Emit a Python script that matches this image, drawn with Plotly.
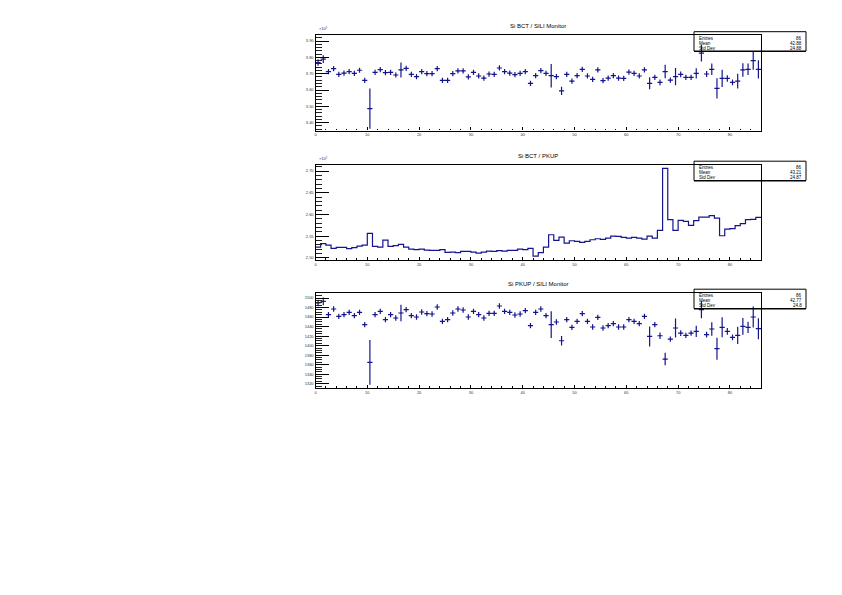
import numpy as np
import plotly.graph_objects as go

# ---------------- data ----------------
n_bins = 86
bin_edges = np.arange(n_bins + 1)
bin_centers = bin_edges[:-1] + 0.5

bct_sili = [3.768, 3.789, 3.713, 3.731, 3.696, 3.704, 3.713, 3.702, 3.721, 3.659,
            3.486, 3.708, 3.725, 3.706, 3.708, 3.692, 3.723, 3.733, 3.696, 3.682,
            3.713, 3.700, 3.700, 3.731, 3.659, 3.659, 3.700, 3.717, 3.717, 3.680,
            3.708, 3.686, 3.673, 3.698, 3.696, 3.735, 3.713, 3.704, 3.694, 3.702,
            3.713, 3.641, 3.688, 3.719, 3.702, 3.688, 3.682, 3.595, 3.696, 3.655,
            3.688, 3.727, 3.686, 3.665, 3.723, 3.657, 3.673, 3.688, 3.673, 3.671,
            3.710, 3.702, 3.686, 3.723, 3.641, 3.678, 3.647, 3.713, 3.661, 3.682,
            3.696, 3.678, 3.678, 3.702, 3.826, 3.698, 3.727, 3.610, 3.671, 3.671,
            3.647, 3.655, 3.723, 3.727, 3.780, 3.727]
bct_sili_err = [0.020, 0.024, 0.016, 0.016, 0.016, 0.016, 0.016, 0.016, 0.016, 0.016,
                0.123, 0.016, 0.016, 0.016, 0.016, 0.016, 0.046, 0.016, 0.016, 0.016,
                0.016, 0.016, 0.016, 0.016, 0.016, 0.016, 0.016, 0.016, 0.016, 0.016,
                0.016, 0.016, 0.016, 0.016, 0.016, 0.016, 0.016, 0.016, 0.016, 0.016,
                0.016, 0.016, 0.016, 0.016, 0.016, 0.072, 0.016, 0.025, 0.016, 0.016,
                0.016, 0.016, 0.016, 0.016, 0.016, 0.016, 0.016, 0.016, 0.016, 0.016,
                0.016, 0.016, 0.016, 0.016, 0.037, 0.016, 0.018, 0.041, 0.016, 0.053,
                0.018, 0.016, 0.016, 0.031, 0.051, 0.018, 0.035, 0.062, 0.053, 0.020,
                0.018, 0.045, 0.041, 0.035, 0.056, 0.056]

bct_pkup = [2.5248, 2.5325, 2.5294, 2.5217, 2.5240, 2.5240, 2.5210, 2.5233, 2.5271, 2.5294,
            2.5563, 2.5264, 2.5248, 2.5410, 2.5264, 2.5279, 2.5310, 2.5248, 2.5202, 2.5187,
            2.5202, 2.5179, 2.5171, 2.5171, 2.5187, 2.5125, 2.5133, 2.5118, 2.5148, 2.5148,
            2.5133, 2.5110, 2.5133, 2.5156, 2.5148, 2.5164, 2.5156, 2.5171, 2.5171, 2.5202,
            2.5187, 2.5217, 2.5040, 2.5120, 2.5248, 2.5532, 2.5402, 2.5479, 2.5340, 2.5394,
            2.5379, 2.5356, 2.5379, 2.5417, 2.5440, 2.5425, 2.5456, 2.5502, 2.5494, 2.5471,
            2.5456, 2.5471, 2.5456, 2.5433, 2.5502, 2.5456, 2.5632, 2.7061, 2.5878, 2.5632,
            2.5863, 2.5839, 2.5747, 2.5855, 2.5939, 2.5939, 2.5970, 2.5916, 2.5509, 2.5663,
            2.5671, 2.5740, 2.5786, 2.5878, 2.5886, 2.5932]

pkup_sili = [1489.5, 1493.0, 1465.0, 1476.9, 1461.5, 1465.0, 1469.9, 1462.9, 1469.9, 1444.0,
             1364.8, 1465.0, 1472.0, 1454.5, 1465.0, 1458.0, 1468.5, 1475.5, 1462.9, 1460.1,
             1470.6, 1467.1, 1466.4, 1481.1, 1451.0, 1454.5, 1468.5, 1476.9, 1474.8, 1460.1,
             1472.0, 1465.0, 1458.0, 1467.8, 1467.8, 1483.2, 1472.0, 1469.9, 1464.3, 1466.4,
             1473.4, 1441.9, 1469.9, 1476.9, 1462.9, 1444.0, 1449.6, 1410.3, 1454.5, 1438.4,
             1451.0, 1467.1, 1451.0, 1439.1, 1459.4, 1437.0, 1441.9, 1446.1, 1439.1, 1439.1,
             1454.5, 1451.0, 1446.1, 1461.5, 1419.4, 1444.0, 1420.8, 1371.8, 1413.8, 1437.0,
             1426.4, 1421.5, 1426.4, 1430.0, 1475.5, 1423.0, 1434.9, 1393.5, 1438.4, 1430.0,
             1417.3, 1421.5, 1440.5, 1438.4, 1460.1, 1435.6]
pkup_sili_err = [7.0, 8.0, 5.6, 5.6, 5.6, 5.6, 5.6, 5.6, 5.6, 5.6,
                 47.0, 5.6, 5.6, 5.6, 5.6, 5.6, 17.5, 5.6, 5.6, 5.6,
                 5.6, 5.6, 5.6, 5.6, 5.6, 5.6, 5.6, 5.6, 5.6, 5.6,
                 5.6, 5.6, 5.6, 5.6, 5.6, 5.6, 5.6, 5.6, 5.6, 5.6,
                 5.6, 5.6, 5.6, 5.6, 5.6, 28.0, 5.6, 10.0, 5.6, 5.6,
                 5.6, 5.6, 5.6, 5.6, 5.6, 5.6, 5.6, 5.6, 5.6, 5.6,
                 5.6, 5.6, 5.6, 5.6, 21.0, 5.6, 7.0, 13.0, 5.6, 20.0,
                 6.0, 5.6, 5.6, 12.0, 18.0, 6.0, 14.0, 23.0, 21.0, 7.0,
                 6.0, 18.0, 17.5, 12.0, 22.0, 22.0]

titles = ["Si BCT / SILI Monitor", "Si BCT / PKUP", "Si PKUP / SILI Monitor"]
stats_labels = ["Entries", "Mean", "Std Dev"]
stats_values = [["86", "42.88", "24.88"], ["86", "43.21", "24.87"], ["86", "42.77", "24.8"]]
y_ranges = [[3.352, 3.937], [2.495, 2.715], [1311, 1511.6]]
y_dticks = [0.1, 0.05, 20]
y_minor = [0.02, 0.01, 5]
y_formats = [".2f", ".2f", "d"]
y_exponents = ["×10³", "×10³", None]

# ---------------- layout helpers ----------------
OFF = 8  # page body margin
W, H = 842 - OFF, 595 - OFF
LEFT, RIGHT = 315.5, 761.0
frames = [(35.0, 130.5), (164.5, 260.0), (292.5, 388.0)]

def px(x):
    return (x - OFF) / W

def py(y):
    return 1 - (y - OFF) / H

COL = "#14148f"
FONT = "Liberation Sans, Arial, sans-serif"

fig = go.Figure()

fig.add_trace(go.Scatter(
    x=bin_centers, y=bct_sili, mode="markers",
    marker=dict(size=1, color=COL),
    error_x=dict(type="data", array=[0.5] * n_bins, width=0, thickness=1.2, color=COL),
    error_y=dict(type="data", array=bct_sili_err, width=0, thickness=1.2, color=COL),
    xaxis="x", yaxis="y", hoverinfo="skip"))

fig.add_trace(go.Scatter(
    x=bin_edges, y=list(bct_pkup) + [bct_pkup[-1]], mode="lines",
    line=dict(color=COL, width=1.2, shape="hv"),
    xaxis="x2", yaxis="y2", hoverinfo="skip"))

fig.add_trace(go.Scatter(
    x=bin_centers, y=pkup_sili, mode="markers",
    marker=dict(size=1, color=COL),
    error_x=dict(type="data", array=[0.5] * n_bins, width=0, thickness=1.2, color=COL),
    error_y=dict(type="data", array=pkup_sili_err, width=0, thickness=1.2, color=COL),
    xaxis="x3", yaxis="y3", hoverinfo="skip"))

layout = dict(
    width=W, height=H, margin=dict(l=0, r=0, t=0, b=0),
    paper_bgcolor="white", plot_bgcolor="white", showlegend=False,
    font=dict(family=FONT, color="black"),
)

annotations = []
shapes = []
for i, (top, bot) in enumerate(frames):
    sx = "" if i == 0 else str(i + 1)
    layout["xaxis" + sx] = dict(
        domain=[px(LEFT), px(RIGHT)], anchor="y" + sx, range=[0, n_bins],
        showgrid=False, zeroline=False, showline=True, mirror=True,
        linecolor="black", linewidth=1.2,
        ticks="inside", ticklen=3, tickwidth=1, tickcolor="black",
        tick0=0, dtick=10,
        minor=dict(ticks="inside", ticklen=1.5, dtick=2, tickcolor="black", showgrid=False),
        tickfont=dict(size=4, color="#333"),
    )
    layout["yaxis" + sx] = dict(
        domain=[py(bot), py(top)], anchor="x" + sx, range=y_ranges[i],
        showgrid=False, zeroline=False, showline=True, mirror=True,
        linecolor="black", linewidth=1.2,
        ticks="inside", ticklen=13, tickwidth=1, tickcolor="black",
        dtick=y_dticks[i], tickformat=y_formats[i],
        minor=dict(ticks="inside", ticklen=6.5, dtick=y_minor[i], tickcolor="#222", showgrid=False),
        tickfont=dict(size=4, color="#333"),
    )
    annotations.append(dict(
        x=px((LEFT + RIGHT) / 2), y=py(top - 8.5), xref="paper", yref="paper",
        text=titles[i], showarrow=False, xanchor="center", yanchor="middle",
        font=dict(size=6, color="black", family=FONT)))
    if y_exponents[i]:
        annotations.append(dict(
            x=px(LEFT + 1), y=py(top - 1.5), xref="paper", yref="paper",
            text=y_exponents[i], showarrow=False, xanchor="left", yanchor="bottom",
            font=dict(size=4, color="#333", family=FONT)))
    bx0, bx1 = 694, 806
    by0, by1 = top - 3.3, top + 16.0
    shapes.append(dict(type="rect", xref="paper", yref="paper",
                       x0=px(bx0), x1=px(bx1), y0=py(by1), y1=py(by0),
                       line=dict(color="black", width=1), fillcolor="rgba(0,0,0,0)"))
    shapes.append(dict(type="line", xref="paper", yref="paper",
                       x0=px(bx0), x1=px(bx1), y0=py(by1 + 0.5), y1=py(by1 + 0.5),
                       line=dict(color="black", width=1)))
    for r, lab in enumerate(stats_labels):
        yy = by0 + 6.3 + 5.0 * r
        annotations.append(dict(
            x=px(bx0 + 3), y=py(yy), xref="paper", yref="paper", text=lab,
            showarrow=False, xanchor="left", yanchor="middle",
            font=dict(size=4.5, color="black", family=FONT)))
        annotations.append(dict(
            x=px(bx1 - 2), y=py(yy), xref="paper", yref="paper", text=stats_values[i][r],
            showarrow=False, xanchor="right", yanchor="middle",
            font=dict(size=4.5, color="black", family=FONT)))

layout["annotations"] = annotations
layout["shapes"] = shapes
fig.update_layout(**layout)

fig.write_html("out.html")
